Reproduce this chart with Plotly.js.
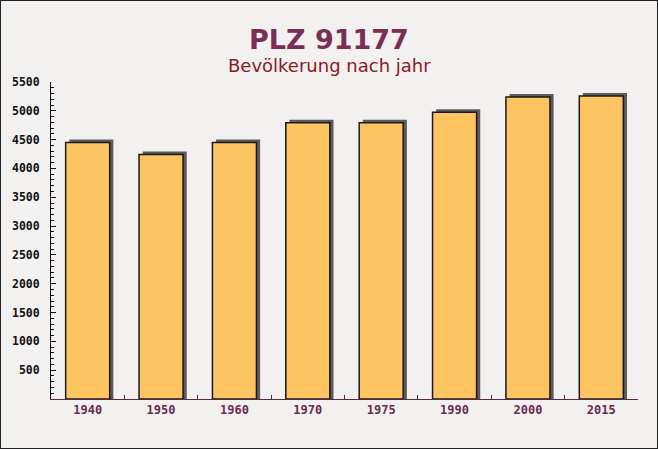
<!DOCTYPE html>
<html>
<head>
<meta charset="utf-8">
<script src="https://cdn.plot.ly/plotly-3.0.1.min.js"></script>
<style>
html,body{margin:0;padding:0;background:#f3f0f0;}
#wrap{position:relative;width:658px;height:449px;}
#chart{width:658px;height:449px;}
#frame{position:absolute;left:0;top:0;width:658px;height:449px;box-sizing:border-box;border:1px solid #222;pointer-events:none;}
</style>
</head>
<body>
<div id="wrap"><div id="chart"></div><div id="frame"></div></div>
<script>
const years = ["1940","1950","1960","1970","1975","1990","2000","2015"];
const population = [4450, 4240, 4450, 4795, 4795, 4975, 5240, 5255];
const yTickValues = [500,1000,1500,2000,2500,3000,3500,4000,4500,5000,5500];
const titleText = "PLZ 91177";
const subtitleText = "Bevölkerung nach jahr";

const shadowLift = 52; // ~3px in value units
const shadowTrace = {
  type: 'bar', x: years, y: population.map(v => v + shadowLift),
  width: 0.6, offset: -0.3 + 0.05,
  marker: {color: '#5e595b', line: {width: 0}},
  hoverinfo: 'skip', showlegend: false
};
const barTrace = {
  type: 'bar', x: years, y: population,
  width: 0.6, offset: -0.3,
  marker: {color: '#fcc562', line: {color: '#1a1a1a', width: 1.5}},
  showlegend: false
};

const titleX = 0.4736;
const layout = {
  width: 658, height: 449,
  paper_bgcolor: '#f3f0f0', plot_bgcolor: 'rgba(0,0,0,0)',
  margin: {l: 51, r: 20, t: 82, b: 50},
  barmode: 'overlay',
  showlegend: false,
  xaxis: {
    type: 'category', range: [-0.5, 7.5],
    showline: true, linecolor: '#5a2a45', linewidth: 1,
    ticks: 'inside', tickson: 'boundaries', ticklen: 4, tickcolor: '#5a2a45',
    showgrid: false, zeroline: false,
    tickfont: {family: 'DejaVu Sans Mono', size: 12, color: '#6b2a50', weight: 'bold'}
  },
  yaxis: {
    range: [0, 5500], tickvals: yTickValues,
    showline: true, linecolor: '#111', linewidth: 1,
    ticks: 'inside', ticklen: 5, tickcolor: '#111',
    minor: {dtick: 100, ticks: 'inside', ticklen: 3, tickcolor: '#111', showgrid: false},
    showgrid: false, zeroline: false,
    ticklabelstandoff: 8,
    tickfont: {family: 'DejaVu Sans Mono', size: 11.5, color: '#111', weight: 'bold'}
  },
  annotations: [
    {text: titleText, xref: 'paper', yref: 'paper', x: titleX, y: 1, xanchor: 'center', yanchor: 'bottom',
     yshift: 25, showarrow: false, font: {family: 'DejaVu Sans', size: 27, color: '#7a2d55', weight: 'bold'}},
    {text: subtitleText, xref: 'paper', yref: 'paper', x: titleX, y: 1, xanchor: 'center', yanchor: 'bottom',
     yshift: 4, showarrow: false, font: {family: 'DejaVu Sans', size: 18, color: '#8b1a1a'}}
  ]
};

Plotly.newPlot('chart', [shadowTrace, barTrace], layout, {staticPlot: true, displayModeBar: false});
</script>
</body>
</html>
